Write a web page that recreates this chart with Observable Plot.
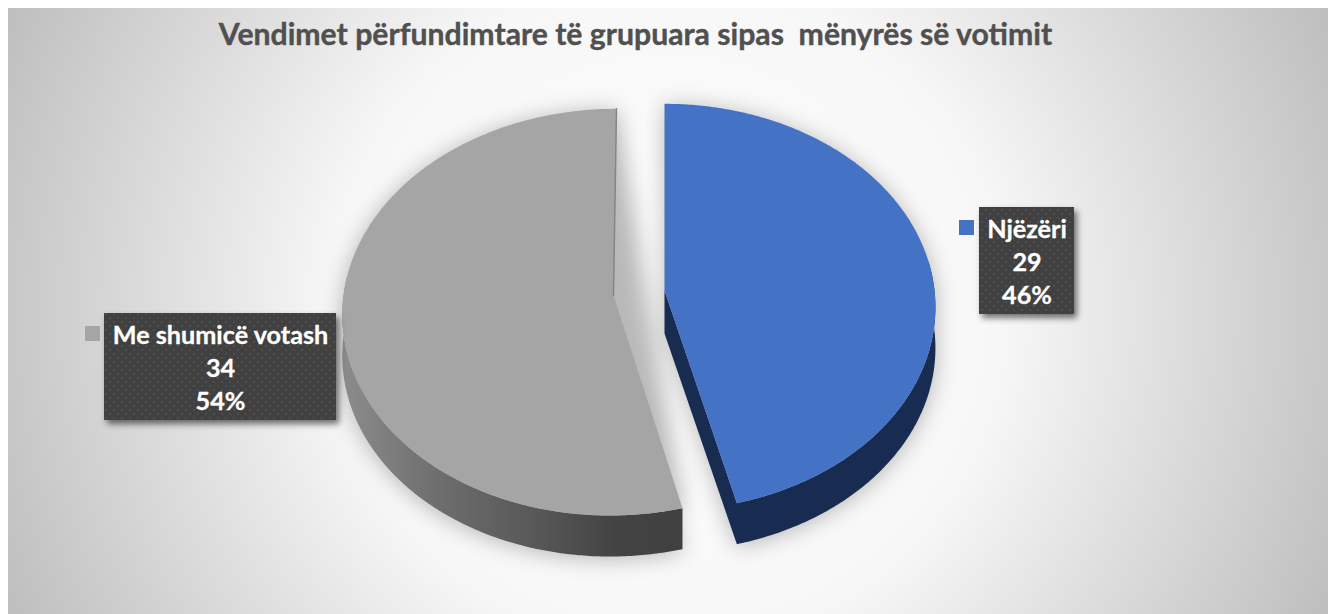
<!DOCTYPE html>
<html lang="sq">
<head>
<meta charset="utf-8">
<script src="https://cdn.jsdelivr.net/npm/d3@7"></script>
<script src="https://cdn.jsdelivr.net/npm/@observablehq/plot@0.6"></script>
<style>
html,body{margin:0;padding:0;background:#fff;overflow:hidden}
.halo{filter:blur(11px)}
.boxshadow{filter:blur(3px)}
</style>
</head>
<body>
<div id="chart"></div>
<script>
const title = "Vendimet përfundimtare të grupuara sipas  mënyrës së votimit";
const categories = ["Njëzëri", "Me shumicë votash"];
const counts = [29, 34];
const percents = ["46%", "54%"];
const colors = ["#4472c4", "#a5a5a5"];

const W = 1328, H = 614;
// projection of the tilted pie: each slice pulled out along its own apex
const apexes = [[664, 290, 0], [613, 295, 0.016]];
const tilt = {a: 270, b: 202, k: 0.082, depth: 41};
const wallFills = ["#182c52", "url(#grayWall)"];
const boxes = [
  {x1: 979, x2: 1074, y1: 207, y2: 314, key: [959, 974, 220, 235], cx: 1026.5, lines: [229, 262, 295]},
  {x1: 104, x2: 336, y1: 313, y2: 420, key: [85, 100, 326, 341], cx: 220, lines: [335, 368, 401]}
];

const pie = d3.pie().sort(null).value(d => d)(counts);

function proj(apex, t, dy = 0) {
  const u = Math.sin(t), v = Math.cos(t), s = 1 + tilt.k * v;
  const yy = -tilt.b * v / s;
  return {x: apex[0] + tilt.a * u / s - apex[2] * yy, y: apex[1] + yy + dy};
}
function arc(apex, t0, t1, dy = 0) {
  const n = Math.max(2, Math.ceil(Math.abs(t1 - t0) / 0.01));
  return d3.range(n + 1).map(i => proj(apex, t0 + (t1 - t0) * i / n, dy));
}
const topFace = i => {
  const a = apexes[i];
  return [{x: a[0], y: a[1]}, ...arc(a, pie[i].startAngle, pie[i].endAngle)];
};
// visible outer wall + cut face of each slice
const wallBlue = (() => {
  const a = apexes[0], e = pie[0].endAngle;
  return [{x: a[0], y: a[1]}, {x: a[0], y: a[1] + tilt.depth + 2},
    ...arc(a, e, Math.PI / 2 - 0.15, tilt.depth), ...arc(a, Math.PI / 2 - 0.15, e)];
})();
const wallGray = (() => {
  const a = apexes[1], s = pie[1].startAngle;
  const left = Math.PI * 1.5 + 0.1;
  return [...arc(a, s, left), ...arc(a, left, s, tilt.depth)];
})();
const silhouette0 = [...topFace(0), ...wallBlue];
const silhouette1 = [...topFace(1), ...wallGray];
const backEdge = [proj(apexes[1], 0), {x: apexes[1][0], y: apexes[1][1]}];
const poly = (pts, fill, extra = {}) => Plot.line(pts, {x: "x", y: "y", curve: "linear-closed", fill, stroke: "none", ...extra});

const defs = () => {
  const ns = "http://www.w3.org/2000/svg";
  const g = document.createElementNS(ns, "defs");
  g.innerHTML = `
  <radialGradient id="bg" gradientUnits="userSpaceOnUse" cx="668" cy="310" r="740">
    <stop offset="0" stop-color="#ffffff"/><stop offset="0.45" stop-color="#f7f7f7"/><stop offset="1" stop-color="#bcbcbc"/>
  </radialGradient>
  <linearGradient id="grayWall" gradientUnits="userSpaceOnUse" x1="342" x2="682" y1="0" y2="0">
    <stop offset="0" stop-color="#8c8c8c"/><stop offset="0.3" stop-color="#6c6c6c"/><stop offset="0.6" stop-color="#555"/><stop offset="0.8" stop-color="#434343"/><stop offset="1" stop-color="#404040"/>
  </linearGradient>
  <pattern id="dots" patternUnits="userSpaceOnUse" width="8" height="8">
    <rect width="8" height="8" fill="#404040"/>
    <rect x="1" y="1" width="2" height="2" fill="#4e4e4e"/><rect x="5" y="5" width="2" height="2" fill="#4e4e4e"/>
  </pattern>`;
  return g;
};

const labelRows = boxes.flatMap((b, i) => [categories[i], String(counts[i]), percents[i]]
  .map((text, j) => ({text, x: b.cx, y: b.lines[j]})));

const chart = Plot.plot({
  width: W, height: H, margin: 0,
  x: {domain: [0, W], range: [0, W], axis: null},
  y: {domain: [0, H], range: [0, H], axis: null},
  style: {background: "#fff", fontFamily: "Lato, sans-serif"},
  marks: [
    defs,
    Plot.rect([{x1: 8, x2: W, y1: 8, y2: H}], {x1: "x1", x2: "x2", y1: "y1", y2: "y2", fill: "url(#bg)"}),
    poly(silhouette0, "#000", {fillOpacity: 0.27, className: "halo", dy: 2}),
    poly(silhouette1, "#000", {fillOpacity: 0.27, className: "halo", dy: 2}),
    poly(wallGray, wallFills[1]),
    poly(topFace(1), colors[1]),
    Plot.line(backEdge, {x: "x", y: "y", stroke: "#858585", strokeWidth: 1.5}),
    poly(wallBlue, wallFills[0]),
    poly(topFace(0), colors[0]),
    Plot.rect(boxes, {x1: d => d.x1 + 3, x2: d => d.x2 + 3, y1: d => d.y1 + 4, y2: d => d.y2 + 4, fill: "#000", fillOpacity: 0.55, className: "boxshadow"}),
    Plot.rect(boxes, {x1: "x1", x2: "x2", y1: "y1", y2: "y2", fill: "url(#dots)"}),
    Plot.rect(boxes, {x1: d => d.key[0], x2: d => d.key[1], y1: d => d.key[2], y2: d => d.key[3], fill: (d, i) => colors[i]}),
    Plot.text(labelRows, {x: "x", y: "y", text: "text", fill: "#fff", stroke: "#fff", strokeWidth: 0.3, fontWeight: 700, fontSize: 25.2}),
    Plot.text([title], {x: () => 635, y: () => 35, text: d => d, fill: "#505050", stroke: "#505050", strokeWidth: 0.4, fontWeight: 700, fontSize: 30.2})
  ]
});
document.getElementById("chart").append(chart);
</script>
</body>
</html>
